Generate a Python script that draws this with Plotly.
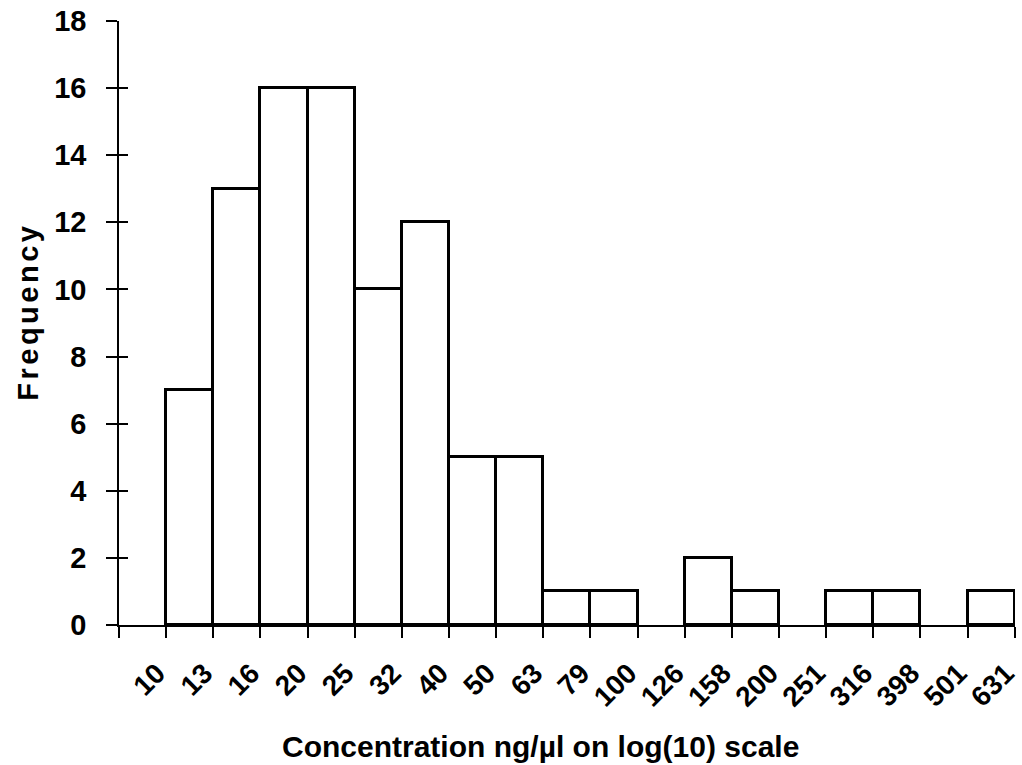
import plotly.graph_objects as go

# Bin edges (ng/µl, log10-spaced) and counts per bin
bin_edges = [10, 13, 16, 20, 25, 32, 40, 50, 63, 79, 100, 126, 158, 200, 251, 316, 398, 501, 631]
frequency = [7, 13, 16, 16, 10, 12, 5, 5, 1, 1, 0, 2, 1, 0, 1, 1, 0, 1]
y_ticks = [0, 2, 4, 6, 8, 10, 12, 14, 16, 18]

FONT = "Liberation Sans, Arial, sans-serif"

# Bins sit between consecutive edge ticks; edge k is at position k on the axis
bar_x = [i + 0.5 for i in range(len(frequency))]
bar_y = [f if f > 0 else None for f in frequency]

fig = go.Figure()
fig.add_trace(go.Bar(
    x=bar_x, y=bar_y, width=1,
    marker=dict(color="white", line=dict(color="black", width=3)),
    showlegend=False, hoverinfo="skip",
))
# invisible trace to carry the secondary y axis (inner half of crossing ticks)
fig.add_trace(go.Scatter(x=[0], y=[0], yaxis="y2", mode="markers",
                         marker=dict(opacity=0), showlegend=False, hoverinfo="skip"))

tickvals = list(range(-1, len(bin_edges)))
ticktext = [""] + [str(e) for e in bin_edges]

fig.update_layout(
    width=1022, height=765,
    margin=dict(l=119, r=7, t=21, b=140, autoexpand=False),
    plot_bgcolor="white", paper_bgcolor="white",
    bargap=0,
    font=dict(family=FONT, size=29, color="black"),
    xaxis=dict(
        range=[-1, len(bin_edges) - 1 + 0.005],
        tickmode="array", tickvals=tickvals, ticktext=ticktext,
        tickangle=-45, automargin=False,
        ticks="outside", ticklen=11, tickwidth=1.5, tickcolor="black",
        showline=True, linecolor="black", linewidth=1.5,
        showgrid=False, zeroline=False,
        tickfont=dict(family=FONT, size=28, color="black", weight="bold"),
        ticklabelstandoff=8, ticklabelshift=-9, ticklabeloverflow="allow",
    ),
    yaxis=dict(
        range=[0, 18], automargin=False,
        tickmode="array", tickvals=y_ticks,
        ticks="outside", ticklen=11, tickwidth=1.5, tickcolor="black",
        showline=True, linecolor="black", linewidth=1.5,
        showgrid=False, zeroline=False,
        tickfont=dict(family=FONT, size=29, color="black", weight="bold"),
        ticklabelstandoff=14,
    ),
    yaxis2=dict(
        range=[0, 18], overlaying="y", side="left", anchor="x", automargin=False,
        tickmode="array", tickvals=y_ticks, showticklabels=False,
        ticks="inside", ticklen=9, tickwidth=1.5, tickcolor="black",
        showline=False, showgrid=False, zeroline=False,
    ),
    annotations=[
        dict(text="Concentration ng/µl on log(10) scale",
             xref="paper", yref="paper", x=(540 - 119) / 896, y=(625 - 746) / 604,
             xanchor="center", yanchor="middle", showarrow=False,
             font=dict(family=FONT, size=30, color="black", weight="bold")),
        dict(text="Frequency", textangle=-90,
             xref="paper", yref="paper", x=(28 - 119) / 896, y=(625 - 312) / 604,
             xanchor="center", yanchor="middle", showarrow=False,
             font=dict(family=FONT, size=29, color="black", weight="bold")),
    ],
)

# the vertical axis title is set with wide letter spacing
spacing_js = """
document.querySelectorAll('.annotation-text').forEach(function (t) {
  if (t.textContent === 'Frequency') { t.setAttribute('letter-spacing', '3.5px'); }
});
"""

fig.write_html("out.html", post_script=spacing_js)
